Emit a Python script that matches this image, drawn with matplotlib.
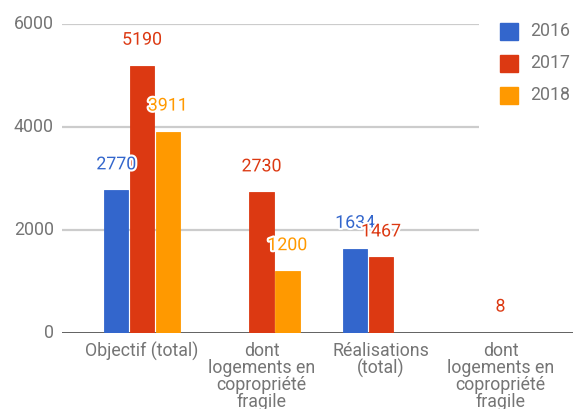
import matplotlib
matplotlib.use("Agg")
import matplotlib.pyplot as plt
import matplotlib.patheffects as pe
from matplotlib.patches import Rectangle

plt.rcParams['font.family'] = ['Roboto', 'DejaVu Sans']

categories = ["Objectif (total)",
              "dont\nlogements en\ncopropriété\nfragile",
              "Réalisations\n(total)",
              "dont\nlogements en\ncopropriété\nfragile"]
series_names = ["2016", "2017", "2018"]
values_2016 = [2770, 0, 1634, 0]
values_2017 = [5190, 2730, 1467, 8]
values_2018 = [3911, 1200, 0, 0]
yticks = [0, 2000, 4000, 6000]

series = [values_2016, values_2017, values_2018]
colors = ["#3366CC", "#DC3912", "#FF9900"]

W, H = 573, 409
fig = plt.figure(figsize=(W / 100, H / 100), dpi=100)
ax_left, ax_right, ax_bottom, ax_top = 62, 573, 333, 24
ax = fig.add_axes([ax_left / W, 1 - ax_bottom / H,
                   (ax_right - ax_left) / W, (ax_bottom - ax_top) / H])

unit = 119.5          # pixels per category
first = 142           # pixel centre of first category
ax.set_xlim((ax_left - first) / unit, (ax_right - first) / unit)
ax.set_ylim(0, 6000)
grid_end = (479 - first) / unit

for spine in ax.spines.values():
    spine.set_visible(False)
ax.set_xticks([])
ax.set_yticks([])

fs = 12.8
grey = "#757575"

# gridlines and tick labels
for t in yticks[1:]:
    ax.hlines(t, ax.get_xlim()[0], grid_end, color="#cccccc", lw=1.6, zorder=0)
for t in yticks:
    ax.text(ax.get_xlim()[0] - 0.07, t, str(t), ha="right", va="center",
            fontsize=fs, color=grey)

# baseline
ax.axhline(0, color="#555555", lw=1.3, zorder=3)

bw = 0.205
step = 0.216
halo = [pe.withStroke(linewidth=3, foreground="white")]
for k, (vals, c) in enumerate(zip(series, colors)):
    xs = [i + (k - 1) * step for i in range(len(categories))]
    ax.bar(xs, vals, width=bw, color=c, edgecolor=c, linewidth=0.6, zorder=4)
    for x, v in zip(xs, vals):
        if v > 0:
            ax.annotate(str(v), (x, v), xytext=(0, 26), textcoords="offset pixels",
                        ha="center", va="center", fontsize=fs, color=c,
                        path_effects=halo, zorder=5)

# category labels
for i, lab in enumerate(categories):
    ax.annotate(lab, (i, 0), xytext=(0, -9), textcoords="offset pixels",
                ha="center", va="top", fontsize=fs, color=grey,
                linespacing=0.93, annotation_clip=False)

# legend
for k, (name, c) in enumerate(zip(series_names, colors)):
    y_top = 23 + 32 * k
    fig.patches.append(Rectangle((500 / W, 1 - (y_top + 17) / H), 18 / W, 17 / H,
                                 transform=fig.transFigure, color=c))
    fig.text(530 / W, 1 - (y_top + 8.5) / H, name, ha="left", va="center",
             fontsize=fs, color=grey)

fig.savefig("out.png", dpi=100)
